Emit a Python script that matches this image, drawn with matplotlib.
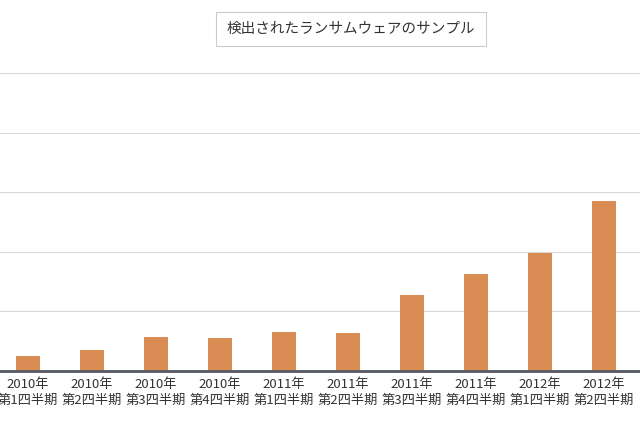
import matplotlib
matplotlib.use("Agg")
import matplotlib.pyplot as plt

quarters = ["2010年\n第1四半期", "2010年\n第2四半期", "2010年\n第3四半期", "2010年\n第4四半期",
            "2011年\n第1四半期", "2011年\n第2四半期", "2011年\n第3四半期", "2011年\n第4四半期",
            "2012年\n第1四半期", "2012年\n第2四半期"]
samples = [0.25, 0.35, 0.57, 0.55, 0.65, 0.63, 1.27, 1.63, 1.98, 2.85]

plt.rcParams["font.family"] = "Noto Sans CJK JP"
fig = plt.figure(figsize=(6.4, 4.26), dpi=100)
ax = fig.add_axes([0, 1 - 371 / 426, 1, 371 / 426])
x = list(range(len(samples)))
ax.bar(x, samples, width=0.39, color="#d98d54", zorder=2)
ax.set_xlim(-28 / 64, 612 / 64)
ax.set_ylim(0, 371 / 59.6)
ax.set_yticks([1, 2, 3, 4, 5])
ax.yaxis.grid(True, color="#d9d9d9", linewidth=0.8, zorder=0)
ax.tick_params(axis="y", left=False, labelleft=False)
ax.set_xticks(x)
ax.set_xticklabels(quarters, fontsize=9.5, color="#333333", linespacing=1.25)
ax.tick_params(axis="x", length=0, pad=5)
for s in ["top", "right", "left"]:
    ax.spines[s].set_visible(False)
ax.spines["bottom"].set_color("#555a60")
ax.spines["bottom"].set_linewidth(2)
fig.text(351 / 640, 1 - 29 / 426, "検出されたランサムウェアのサンプル", ha="center", va="center",
         fontsize=10.5, color="#333333",
         bbox=dict(boxstyle="square,pad=0.7", fc="white", ec="#cccccc", lw=0.8))
fig.savefig("out.png", dpi=100)
